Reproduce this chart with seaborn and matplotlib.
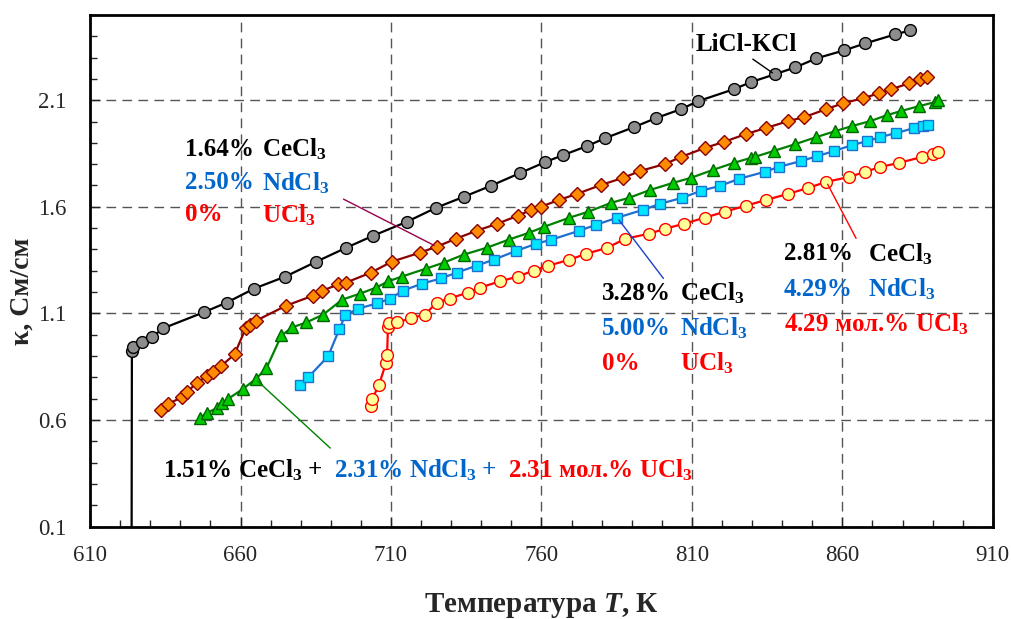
import numpy as np
import seaborn as sns
import matplotlib.pyplot as plt

# LiCl-KCl
t_base = [623.8, 623.9, 624.2, 627.2, 630.5, 634.2, 647.7, 655.4, 664.6, 674.9, 685.2, 695.1,
          704.0, 715.3, 724.9, 734.2, 743.1, 753.0, 761.3, 767.3, 775.2, 781.2, 790.8, 798.1,
          806.4, 812.0, 823.9, 829.5, 837.5, 844.4, 851.4, 860.7, 867.6, 877.5, 882.5]
k_base = [0.0, 0.922, 0.941, 0.964, 0.988, 1.030, 1.105, 1.151, 1.217, 1.273, 1.343, 1.408,
          1.464, 1.530, 1.595, 1.647, 1.698, 1.759, 1.810, 1.843, 1.885, 1.922, 1.974, 2.016,
          2.058, 2.095, 2.151, 2.184, 2.221, 2.254, 2.296, 2.334, 2.366, 2.408, 2.427]

# 1.64% CeCl3 + 2.50% NdCl3
t_ce_nd = [633.5, 635.8, 640.5, 642.1, 645.4, 648.7, 650.7, 653.4, 658.0, 661.7, 663.0, 665.3,
           675.2, 684.2, 687.2, 692.5, 695.1, 703.4, 710.3, 719.6, 725.2, 731.5, 738.5, 745.4,
           752.1, 756.7, 759.7, 766.0, 771.9, 779.9, 787.2, 792.8, 801.1, 806.4, 814.3, 820.6,
           827.9, 834.5, 842.1, 847.4, 854.7, 860.3, 866.9, 872.3, 876.2, 882.2, 885.8, 888.1]
k_ce_nd = [0.647, 0.675, 0.707, 0.731, 0.773, 0.806, 0.824, 0.852, 0.908, 1.030, 1.044, 1.067,
           1.137, 1.184, 1.207, 1.236, 1.245, 1.292, 1.343, 1.385, 1.413, 1.450, 1.488, 1.521,
           1.558, 1.586, 1.600, 1.633, 1.661, 1.703, 1.736, 1.768, 1.801, 1.834, 1.876, 1.904,
           1.941, 1.969, 2.002, 2.021, 2.058, 2.086, 2.109, 2.133, 2.151, 2.179, 2.198, 2.207]

# 1.51% CeCl3 + 2.31% NdCl3 + 2.31% UCl3
t_mix = [646.4, 648.7, 652.1, 654.0, 655.7, 660.7, 665.0, 668.6, 673.6, 677.2, 681.9, 687.5,
         693.8, 699.7, 705.0, 709.0, 713.6, 721.6, 727.5, 734.2, 741.8, 749.1, 756.0, 761.0,
         769.3, 775.6, 783.2, 789.1, 796.1, 803.7, 809.7, 817.0, 823.9, 829.5, 830.9, 837.2,
         844.4, 851.4, 857.7, 863.3, 869.3, 874.9, 879.5, 885.5, 890.8, 891.8]
k_mix = [0.609, 0.633, 0.656, 0.679, 0.698, 0.745, 0.792, 0.843, 0.997, 1.035, 1.058, 1.095,
         1.165, 1.193, 1.221, 1.250, 1.273, 1.310, 1.338, 1.376, 1.408, 1.446, 1.479, 1.507,
         1.549, 1.577, 1.619, 1.642, 1.679, 1.712, 1.736, 1.773, 1.806, 1.829, 1.834, 1.862,
         1.894, 1.927, 1.955, 1.979, 2.002, 2.030, 2.049, 2.072, 2.091, 2.100]

# 3.28% CeCl3 + 5.00% NdCl3
t_ce_nd2 = [679.9, 682.5, 689.1, 692.8, 694.8, 699.1, 705.4, 709.7, 714.0, 720.3, 726.6, 731.9,
            738.5, 744.1, 751.7, 758.3, 763.3, 772.6, 778.2, 785.2, 793.8, 799.4, 806.7, 813.0,
            819.3, 825.6, 834.2, 838.8, 846.4, 851.7, 857.4, 863.3, 868.3, 872.6, 877.9, 883.8,
            886.8, 888.5]
k_ce_nd2 = [0.764, 0.801, 0.899, 1.025, 1.091, 1.123, 1.147, 1.170, 1.207, 1.240, 1.264, 1.292,
            1.324, 1.352, 1.394, 1.427, 1.446, 1.488, 1.516, 1.549, 1.586, 1.614, 1.642, 1.675,
            1.698, 1.731, 1.764, 1.787, 1.815, 1.838, 1.862, 1.890, 1.908, 1.927, 1.946, 1.969,
            1.979, 1.983]

# 2.81% CeCl3 + 4.29% NdCl3 + 4.29% UCl3
t_u = [703.4, 703.7, 706.0, 708.3, 708.7, 709.0, 709.3, 712.0, 716.6, 721.3, 725.2, 729.5,
       735.5, 739.5, 746.1, 752.1, 757.4, 762.3, 769.3, 774.9, 781.9, 787.8, 795.8, 801.1,
       807.4, 814.3, 820.9, 827.9, 834.8, 842.1, 848.7, 854.7, 862.3, 867.6, 872.6, 878.9,
       886.5, 890.1, 891.8]
k_u = [0.665, 0.698, 0.764, 0.866, 0.904, 1.035, 1.053, 1.058, 1.077, 1.095, 1.151, 1.170,
       1.198, 1.221, 1.250, 1.273, 1.301, 1.324, 1.352, 1.380, 1.408, 1.450, 1.474, 1.497,
       1.521, 1.549, 1.577, 1.605, 1.633, 1.661, 1.689, 1.717, 1.740, 1.764, 1.787, 1.806,
       1.834, 1.848, 1.857]

x_ticks = [610, 660, 710, 760, 810, 860, 910]
y_ticks = [0.1, 0.6, 1.1, 1.6, 2.1]

BLUE = '#0066CC'
RED = '#FF0000'

sns.set_style('ticks')
plt.rcParams['font.family'] = ['Liberation Serif', 'DejaVu Serif']
plt.rcParams['mathtext.fontset'] = 'custom'
plt.rcParams['mathtext.rm'] = 'Liberation Serif'
plt.rcParams['mathtext.it'] = 'Liberation Serif:italic'
plt.rcParams['mathtext.bf'] = 'Liberation Serif:bold'
plt.rcParams['mathtext.bfit'] = 'Liberation Serif:bold:italic'
plt.rcParams['mathtext.default'] = 'regular'

fig = plt.figure(figsize=(10.12, 6.19), dpi=100)
ax = fig.add_axes([0.089, 0.149, 0.892, 0.827])

series = [
    (t_base, k_base, 'black', 'o', '#8C8C8C', 'black', 8.5),
    (t_ce_nd, k_ce_nd, '#8B0000', 'D', '#FF8C00', '#8B0000', 7.2),
    (t_mix, k_mix, '#008000', '^', '#00CC00', '#006400', 9),
    (t_ce_nd2, k_ce_nd2, '#1F6FD0', 's', '#00E5FF', '#1F6FD0', 7.8),
    (t_u, k_u, RED, 'o', '#FFFF99', RED, 8.5),
]
for t, k, lc, m, mfc, mec, ms in series:
    sns.lineplot(x=t, y=k, ax=ax, sort=False, estimator=None, color=lc, linewidth=1.6,
                 marker=m, markersize=ms, markerfacecolor=mfc, markeredgecolor=mec,
                 markeredgewidth=1.0, zorder=3)

ax.set_xlim(610, 910)
ax.set_ylim(0.1, 2.5)
ax.set_xticks(x_ticks)
ax.set_yticks(y_ticks)
ax.set_xticklabels([str(v) for v in x_ticks])
ax.set_yticklabels([f'{v:.1f}' for v in y_ticks])
ax.set_xticks(np.arange(610, 911, 10), minor=True)
ax.set_yticks(np.arange(0.1, 2.51, 0.1), minor=True)
ax.tick_params(which='both', direction='in', labelsize=16.5, top=False, right=False)
ax.tick_params(which='major', length=7, width=1)
ax.tick_params(which='minor', length=5, width=1)
ax.tick_params(axis='x', pad=13)
ax.tick_params(axis='y', pad=17)
ax.grid(True, which='major', color='#555555', linestyle=(0, (7, 4.5)), linewidth=1)
ax.set_axisbelow(True)
for s in ax.spines.values():
    s.set_linewidth(2)
    s.set_color('black')

ax.set_xlabel(r'Температура $\mathbfit{T}$, К', fontsize=21, fontweight='bold', labelpad=18)
ax.set_ylabel('κ, См/см', fontsize=20, fontweight='bold', labelpad=4)
ax.yaxis.set_label_coords(-0.061, 0.46)

fs = 18
tk = dict(fontsize=fs, fontweight='bold', va='center', ha='left')

ax.text(811.3, 2.362, 'LiCl-KCl', color='black', **tk)
ax.annotate('', xy=(t_base[28], k_base[28]), xytext=(829.5, 2.30),
            arrowprops=dict(arrowstyle='-', color='black', lw=1))

ax.text(641.5, 1.871, '1.64%', color='black', **tk)
ax.text(667.3, 1.871, 'CeCl$_3$', color='black', **tk)
ax.text(641.5, 1.712, '2.50%', color=BLUE, **tk)
ax.text(667.3, 1.712, 'NdCl$_3$', color=BLUE, **tk)
ax.text(641.5, 1.563, '0%', color=RED, **tk)
ax.text(667.3, 1.563, 'UCl$_3$', color=RED, **tk)
ax.annotate('', xy=(t_ce_nd[20], k_ce_nd[20]), xytext=(693.4, 1.642),
            arrowprops=dict(arrowstyle='-', color='#99004C', lw=1))

ax.text(780.2, 1.193, '3.28%', color='black', **tk)
ax.text(806.0, 1.193, 'CeCl$_3$', color='black', **tk)
ax.text(780.2, 1.030, '5.00%', color=BLUE, **tk)
ax.text(806.0, 1.030, 'NdCl$_3$', color=BLUE, **tk)
ax.text(780.2, 0.866, '0%', color=RED, **tk)
ax.text(806.0, 0.866, 'UCl$_3$', color=RED, **tk)
ax.annotate('', xy=(t_ce_nd2[19], k_ce_nd2[19]), xytext=(801.1, 1.254),
            arrowprops=dict(arrowstyle='-', color='#1A3FCC', lw=1))

ax.text(840.5, 1.380, '2.81%', color='black', **tk)
ax.text(868.6, 1.380, 'CeCl$_3$', color='black', **tk)
ax.text(840.5, 1.212, '4.29%', color=BLUE, **tk)
ax.text(868.6, 1.212, 'NdCl$_3$', color=BLUE, **tk)
ax.text(840.5, 1.049, '4.29 мол.% UCl$_3$', color=RED, **tk)
ax.annotate('', xy=(t_u[31], k_u[31]), xytext=(865.0, 1.441),
            arrowprops=dict(arrowstyle='-', color=RED, lw=1))

# bottom caption: three coloured pieces placed one after another
t1 = ax.text(634.2, 0.366, '1.51% CeCl$_3$ +', color='black', **tk)
t2 = ax.annotate('2.31% NdCl$_3$ +', xy=(1, 0), xycoords=t1, xytext=(8, 0),
                 textcoords='offset points', color=BLUE,
                 fontsize=fs, fontweight='bold', va='bottom', ha='left')
ax.annotate('2.31 мол.% UCl$_3$', xy=(1, 0), xycoords=t2, xytext=(8, 0),
            textcoords='offset points', color=RED,
            fontsize=fs, fontweight='bold', va='bottom', ha='left')
ax.annotate('', xy=(t_mix[6], k_mix[6]), xytext=(690.5, 0.46),
            arrowprops=dict(arrowstyle='-', color='#008000', lw=1))

fig.savefig('out.png', dpi=100)
